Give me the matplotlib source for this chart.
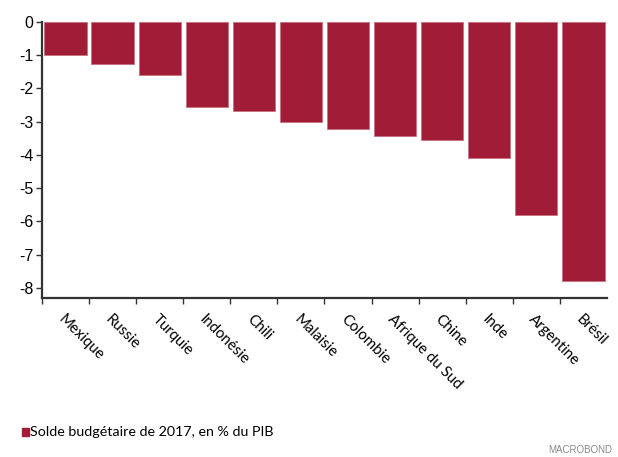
import matplotlib.pyplot as plt
import numpy as np

# data
countries = ["Mexique", "Russie", "Turquie", "Indonésie", "Chili", "Malaisie",
             "Colombie", "Afrique du Sud", "Chine", "Inde", "Argentine", "Brésil"]
balance = [-1.0, -1.27, -1.6, -2.56, -2.68, -3.02, -3.22, -3.42, -3.55, -4.1, -5.8, -7.8]
yticks = [0, -1, -2, -3, -4, -5, -6, -7, -8]
legend_label = "Solde budgétaire de 2017, en % du PIB"

bar_color = "#a11c36"

fig = plt.figure(figsize=(6.18, 4.57), dpi=100)
ax = fig.add_axes([0.068, 0.348, 0.914, 0.604])

x = np.arange(len(countries))
ax.bar(x, balance, width=0.9, color=bar_color, edgecolor="#c7707f", linewidth=0.6)

ax.set_xlim(-0.5, len(countries) - 0.5)
ax.set_ylim(-8.3, 0)
ax.set_yticks(yticks)
ax.set_yticklabels([str(v) for v in yticks], fontsize=11.5, family="Liberation Sans")

# boundary ticks (major) and centred labels (minor)
ax.set_xticks(np.arange(-0.5, len(countries) - 1, 1.0))
ax.set_xticklabels([])
ax.set_xticks(x, minor=True)
ax.set_xticklabels(countries, minor=True, rotation=-45, ha="left", va="top",
                   rotation_mode="anchor", fontsize=10.8, family="Lato")
ax.tick_params(axis="x", which="minor", length=0, pad=10)
ax.tick_params(axis="x", which="major", length=4, width=1, color="#333333")
ax.tick_params(axis="y", length=4, width=1, color="#333333", pad=2)

for s in ["top", "right"]:
    ax.spines[s].set_visible(False)
for s in ["left", "bottom"]:
    ax.spines[s].set_linewidth(1.6)
    ax.spines[s].set_color("#333333")

# legend
fig.patches.append(plt.Rectangle((0.036, 0.047), 0.011, 0.016, transform=fig.transFigure,
                                 color=bar_color, figure=fig))
fig.text(0.048, 0.055, legend_label, fontsize=10.3, family="Lato", va="center", ha="left")
fig.text(0.99, 0.004, "MACROBOND", fontsize=7, color="#8a8a8a", ha="right", va="bottom",
         family="Liberation Sans")

fig.savefig("out.png", dpi=100)
